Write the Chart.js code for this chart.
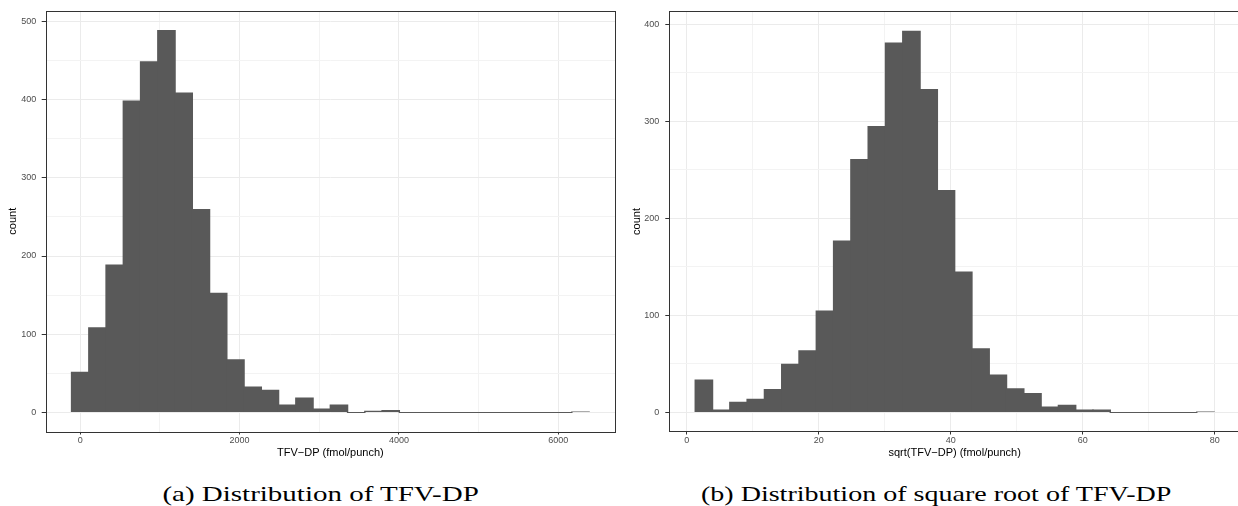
<!DOCTYPE html>
<html>
<head>
<meta charset="utf-8">
<script src="https://cdn.jsdelivr.net/npm/chart.js@4/dist/chart.umd.min.js"></script>
<style>
  html, body { margin: 0; padding: 0; background: #fff; }
  body { width: 1238px; height: 506px; overflow: hidden; position: relative; }
  canvas { position: absolute; top: 0; }
  #chartA { left: 0; }
  #chartB { left: 620px; }
  .caption {
    position: absolute; top: 482px;
    font-family: 'Liberation Serif', serif; font-size: 21px; line-height: 24px;
    white-space: nowrap; color: #000; transform-origin: center;
  }
</style>
</head>
<body>
<canvas id="chartA" width="630" height="470"></canvas>
<canvas id="chartB" width="640" height="470"></canvas>
<div class="caption" id="capA">(a) Distribution of TFV-DP</div>
<div class="caption" id="capB">(b) Distribution of square root of TFV-DP</div>
<script>
// bin centres and counts (30 bins each)
const tfvBins = [0, 216.5, 433, 649.5, 866, 1082.5, 1299, 1515.5, 1732, 1948.5,
  2165, 2381.5, 2598, 2814.5, 3031, 3247.5, 3464, 3680.5, 3897, 4113.5,
  4330, 4546.5, 4763, 4979.5, 5196, 5412.5, 5629, 5845.5, 6062, 6278.5];
const tfvCounts = [52, 109, 189, 399, 449, 489, 409, 260, 153, 68,
  33, 29, 10, 19, 5, 10, 0, 2, 3, 0,
  0, 0, 0, 0, 0, 0, 0, 0, 0, 1];

const sqrtBins = [2.61, 5.23, 7.85, 10.47, 13.09, 15.71, 18.33, 20.95, 23.57, 26.19,
  28.81, 31.43, 34.05, 36.67, 39.29, 41.91, 44.53, 47.15, 49.77, 52.39,
  55.01, 57.63, 60.25, 62.87, 65.49, 68.11, 70.73, 73.35, 75.97, 78.59];
const sqrtCounts = [34, 3, 11, 14, 24, 50, 64, 105, 177, 261,
  295, 381, 393, 333, 229, 145, 66, 39, 25, 20,
  6, 8, 3, 3, 0, 0, 0, 0, 0, 1];

// labelled ticks (the grid also has minor lines halfway between)
const tfvTicks = [0, 2000, 4000, 6000];
const sqrtTicks = [0, 20, 40, 60, 80];
const countTicksA = [0, 100, 200, 300, 400, 500];
const countTicksB = [0, 100, 200, 300, 400];

const tickFont = { family: 'Liberation Sans', size: 9 };
const titleFont = { family: 'Liberation Sans', size: 11 };

// ggplot style panel border drawn on top of the bars
const panelBorder = {
  id: 'panelBorder',
  afterDatasetsDraw(chart) {
    const { ctx, chartArea: a } = chart;
    ctx.save();
    ctx.strokeStyle = '#333333';
    ctx.lineWidth = 1;
    ctx.strokeRect(Math.round(a.left) + 0.5, Math.round(a.top) + 0.5,
      Math.round(a.right - a.left), Math.round(a.bottom - a.top));
    ctx.restore();
  }
};

function axis(labelled, min, max, step, title, fit, tickLength, pad, titlePad) {
  const major = v => labelled.includes(v);
  return {
    type: 'linear', min: min, max: max, offset: false,
    border: { display: false },
    grid: {
      offset: false,
      color: c => major(c.tick.value) ? '#ebebeb' : '#f3f3f3',
      lineWidth: 1,
      tickLength: tickLength,
      tickColor: c => major(c.tick.value) ? '#333333' : 'rgba(0,0,0,0)'
    },
    ticks: {
      autoSkip: false, maxRotation: 0,
      padding: pad, font: tickFont, color: '#4d4d4d',
      callback: v => major(v) ? String(v) : ''
    },
    // major + minor grid positions at every half step between labels
    afterBuildTicks: s => {
      const t = [];
      for (let v = Math.ceil(min / step) * step; v <= max; v += step) t.push({ value: v });
      s.ticks = t;
    },
    title: { display: true, text: title, font: titleFont, color: '#000', padding: titlePad },
    afterFit: fit
  };
}

function histogram(id, bins, counts, o) {
  new Chart(document.getElementById(id), {
    type: 'bar',
    data: {
      datasets: [{
        data: bins.map((x, i) => ({ x: x, y: counts[i] })),
        backgroundColor: '#595959',
        borderWidth: 0,
        barPercentage: 1.08,
        categoryPercentage: 1,
        minBarLength: 1
      }]
    },
    options: {
      responsive: false,
      animation: false,
      devicePixelRatio: 1,
      layout: { padding: o.padding },
      plugins: { legend: { display: false }, tooltip: { enabled: false } },
      scales: {
        x: axis(o.xTicks, o.xMin, o.xMax, o.xStep, o.xTitle,
          s => { s.height = 30; }, 3, 1, { top: 0, bottom: 2.4 }),
        y: axis(o.yTicks, o.yMin, o.yMax, 50, 'count',
          s => { s.width = o.yWidth; }, 4, o.yPad, { top: o.yTitlePad, bottom: 0 })
      }
    },
    plugins: [panelBorder]
  });
}

histogram('chartA', tfvBins, tfvCounts, {
  padding: { left: 0, right: 15, top: 8, bottom: 8.5 },
  xMin: -432.8, xMax: 6711.8, xStep: 1000, xTicks: tfvTicks,
  xTitle: 'TFV\u2212DP (fmol/punch)',
  yMin: -24.45, yMax: 513.5, yTicks: countTicksA,
  yWidth: 45.7, yPad: 5.5, yTitlePad: 6.1
});

histogram('chartB', sqrtBins, sqrtCounts, {
  padding: { left: 0, right: 20, top: 8, bottom: 8.5 },
  xMin: -2.63, xMax: 83.83, xStep: 10, xTicks: sqrtTicks,
  xTitle: 'sqrt(TFV\u2212DP) (fmol/punch)',
  yMin: -19.67, yMax: 413, yTicks: countTicksB,
  yWidth: 49.3, yPad: 6, yTitlePad: 10.7
});

// captions: serif text stretched to the width seen in the figure
function fitCaption(id, centerX, width) {
  const el = document.getElementById(id);
  const w = el.offsetWidth;
  el.style.left = (centerX - w / 2) + 'px';
  el.style.transform = 'scaleX(' + (width / w) + ')';
}
fitCaption('capA', 320, 316);
fitCaption('capB', 936, 470);
</script>
</body>
</html>
